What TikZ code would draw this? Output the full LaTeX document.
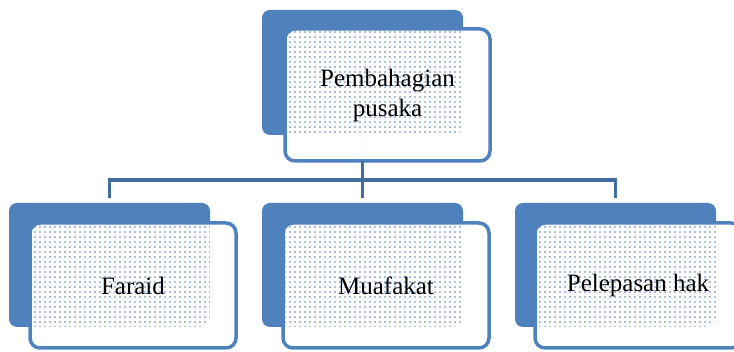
\documentclass[tikz,border=0pt]{standalone}
\usepackage{fontspec}
\setmainfont{Liberation Serif}
\usepackage{tikz}
\usetikzlibrary{patterns}
\definecolor{boxblue}{RGB}{79,129,189}
\definecolor{lineblue}{RGB}{65,108,158}
\pgfdeclarepatternformonly{boxdots}{\pgfqpoint{-1pt}{-1pt}}{\pgfqpoint{1pt}{1pt}}{\pgfqpoint{5pt}{5pt}}{%
\pgfpathcircle{\pgfqpoint{0pt}{0pt}}{.85pt}
\pgfpathcircle{\pgfqpoint{2.5pt}{2.5pt}}{.85pt}
\pgfusepath{fill}}

\begin{document}
\begin{tikzpicture}[x=1pt,y=-1pt,
backbox/.style={fill=boxblue,rounded corners=8pt,minimum width=201pt,minimum height=124pt,inner sep=0pt,outer sep=0pt},
frontbox/.style={draw=boxblue,fill=white,line width=3.5pt,rounded corners=10pt,minimum width=206pt,minimum height=125pt,
  inner sep=0pt,outer sep=0pt,align=center,font=\fontsize{25}{30}\selectfont,
  path picture={\fill[pattern=boxdots,pattern color=boxblue] (#1.south west) rectangle (#1.north east);}},
conn/.style={draw=lineblue,line width=3.5pt}
]
\useasboundingbox (0,0) rectangle (734,352);
% top box
\node[backbox,minimum height=125pt] (topback) at (362.5,72.5) {};
\node[frontbox=topback,minimum width=205pt,minimum height=132pt] (top) at (387.5,95) {Pembahagian\\pusaka};
% bus
\coordinate (bus) at (362.5,180);
\draw[conn] (top.south -| topback.south) -- (bus);
% children
\node[backbox] (faraidback) at (109.5,265) {};
\node[backbox] (muafakatback) at (362.5,265) {};
\node[backbox] (pelepasanback) at (615.5,265) {};
\draw[conn,shorten >=5pt] (bus) -| (faraidback.north);
\draw[conn,shorten >=5pt] (bus) -- (muafakatback.north);
\draw[conn,shorten >=5pt] (bus) -| (pelepasanback.north);
\node[frontbox=faraidback] (faraid) at (133,285.5) {Faraid};
\node[frontbox=muafakatback] (muafakat) at (386,285.5) {Muafakat};
\node[frontbox=pelepasanback] (pelepasan) at (638,285.5) {Pelepasan hak};
% connector seen through the top box
\begin{scope}
\clip (top.south west) rectangle (top.north east);
\fill[pattern=boxdots,pattern color=lineblue] ([xshift=-1.75pt]topback.south) rectangle ([xshift=1.75pt]top.south -| topback.south);
\end{scope}
\end{tikzpicture}
\end{document}
